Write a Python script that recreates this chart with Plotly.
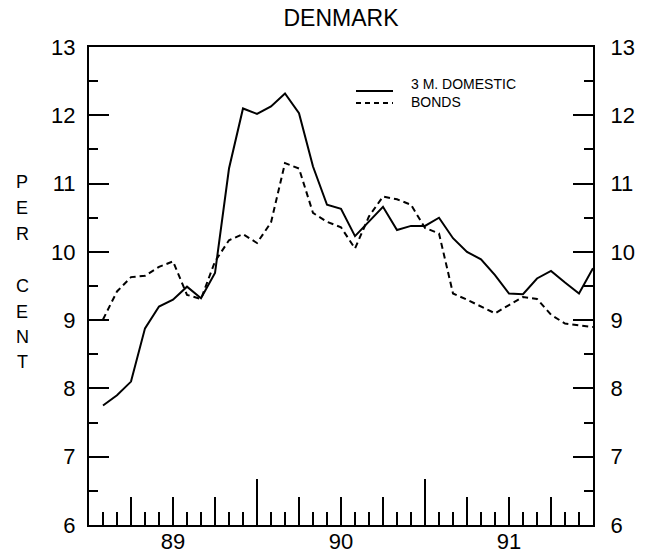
import plotly.graph_objects as go

# ---- data (monthly, Jan 1989 .. Dec 1991; values read at month ends) ----
month_index = list(range(1, 37))
domestic_3m = [7.75, 7.90, 8.10, 8.88, 9.20, 9.30, 9.49, 9.32, 9.69, 11.22, 12.10, 12.02,
               12.13, 12.32, 12.03, 11.25, 10.69, 10.63, 10.23, 10.45, 10.66, 10.32, 10.38, 10.38,
               10.50, 10.20, 10.00, 9.89, 9.66, 9.39, 9.38, 9.61, 9.72, 9.55, 9.39, 9.76]
bonds = [9.01, 9.42, 9.63, 9.65, 9.78, 9.86, 9.37, 9.31, 9.86, 10.17, 10.26, 10.13,
         10.43, 11.30, 11.22, 10.57, 10.44, 10.36, 10.05, 10.52, 10.81, 10.77, 10.69, 10.35,
         10.27, 9.39, 9.30, 9.20, 9.10, 9.22, 9.34, 9.31, 9.08, 8.95, 8.93, 8.90]
year_labels = ["89", "90", "91"]
year_centers = [6, 18, 30]
year_bounds = [12, 24]
quarter_ticks = [3, 6, 9, 15, 18, 21, 27, 30, 33]
month_ticks = list(range(1, 36))
series_names = ["3 M. DOMESTIC", "BONDS"]

W, H = 650, 558
PL, PR, PT, PB = 89, 593, 47, 525          # plot area in page pixels
L, T = PL, PT
R, B = W - PR, H - PB
FONT = "Liberation Sans, Arial, sans-serif"


def px(x):  # page pixel -> paper x
    return (x - PL) / (PR - PL)


def py(y):  # page pixel -> paper y
    return (PB - y) / (PB - PT)


fig = go.Figure()
fig.add_trace(go.Scatter(x=month_index, y=domestic_3m, mode="lines", name=series_names[0],
                         line=dict(color="black", width=2), showlegend=False))
fig.add_trace(go.Scatter(x=month_index, y=bonds, mode="lines", name=series_names[1],
                         line=dict(color="black", width=2, dash="6px,4px"), showlegend=False))
# empty traces so the overlay axes are registered
for ax in ["x2", "x3", "x4"]:
    fig.add_trace(go.Scatter(x=[None], y=[None], xaxis=ax, yaxis="y", showlegend=False, hoverinfo="skip"))
fig.add_trace(go.Scatter(x=[None], y=[None], xaxis="x", yaxis="y2", showlegend=False, hoverinfo="skip"))

xr = [0, 36]
yr = [6, 13]
common_x = dict(range=xr, showgrid=False, zeroline=False, fixedrange=True)
tick_font = dict(size=22, family=FONT, color="black")
fig.update_layout(
    width=W, height=H,
    margin=dict(l=L, r=R, t=T, b=B, autoexpand=False),
    paper_bgcolor="white", plot_bgcolor="white",
    font=dict(family=FONT, color="black"),
    title=dict(text="DENMARK", x=px(341), xref="paper", xanchor="center",
               y=1 - 18 / H, yref="container", yanchor="middle", pad=dict(t=0, b=0),
               font=dict(size=23, family=FONT, color="black")),
    xaxis=dict(**common_x, showline=True, linewidth=2, linecolor="black", mirror=True,
               ticks="inside", tickvals=month_ticks, ticklen=13, tickwidth=2, tickcolor="black",
               showticklabels=False),
    xaxis2=dict(**common_x, overlaying="x", anchor="y", side="bottom", showline=False,
                ticks="inside", tickvals=quarter_ticks, ticklen=28, tickwidth=2, tickcolor="black",
                showticklabels=False),
    xaxis3=dict(**common_x, overlaying="x", anchor="y", side="bottom", showline=False,
                ticks="inside", tickvals=year_bounds, ticklen=46, tickwidth=2, tickcolor="black",
                showticklabels=False),
    xaxis4=dict(**common_x, overlaying="x", anchor="y", side="bottom", showline=False,
                ticks="", tickvals=year_centers, ticktext=year_labels,
                tickfont=tick_font, ticklabelstandoff=1),
    yaxis=dict(range=yr, showgrid=False, zeroline=False, fixedrange=True,
               showline=True, linewidth=2, linecolor="black",
               ticks="inside", dtick=1, tick0=6, ticklen=20, tickwidth=2, tickcolor="black",
               minor=dict(ticks="inside", dtick=0.5, tick0=6, ticklen=9, tickwidth=2, tickcolor="black"),
               tickfont=tick_font, ticklabelstandoff=7),
    yaxis2=dict(range=yr, overlaying="y", side="right", anchor="x", showgrid=False, zeroline=False,
                fixedrange=True, showline=True, linewidth=2, linecolor="black",
                ticks="inside", dtick=1, tick0=6, ticklen=20, tickwidth=2, tickcolor="black",
                minor=dict(ticks="inside", dtick=0.5, tick0=6, ticklen=9, tickwidth=2, tickcolor="black"),
                tickfont=tick_font, ticklabelstandoff=11),
)

# vertical "PER CENT" label, one letter per line
letters = ["P", "E", "R", "C", "E", "N", "T"]
letter_y = [182, 208, 234, 286, 312, 337, 362]
for ch, yy in zip(letters, letter_y):
    fig.add_annotation(text=ch, x=px(22), y=py(yy), xref="paper", yref="paper",
                       xanchor="center", yanchor="middle", showarrow=False,
                       font=dict(size=18, family=FONT, color="black"))

# legend key drawn in the upper right
fig.add_shape(type="line", xref="paper", yref="paper", x0=px(356), x1=px(393), y0=py(91), y1=py(91),
              line=dict(color="black", width=2))
fig.add_shape(type="line", xref="paper", yref="paper", x0=px(356), x1=px(393), y0=py(103), y1=py(103),
              line=dict(color="black", width=2, dash="5px,4px"))
fig.add_annotation(text="<br>".join(series_names), x=px(409), y=py(93), xref="paper", yref="paper",
                   xanchor="left", yanchor="middle", align="left", showarrow=False,
                   font=dict(size=14, family=FONT, color="black"))

# remove the default page margin so the figure sits at the window's top-left corner
fig.write_html("out.html", config={"displayModeBar": False},
               post_script="document.body.style.margin='0';")
